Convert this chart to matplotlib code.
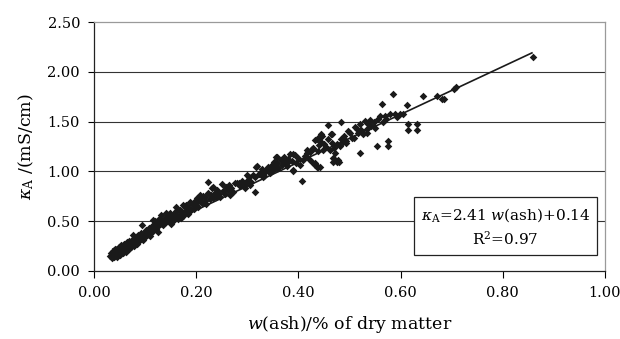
import numpy as np
import matplotlib
matplotlib.use("Agg")
import matplotlib.pyplot as plt

params = {
    "font.family": "serif",
    "font.serif": ["DejaVu Serif"],
    "mathtext.fontset": "custom",
    "mathtext.rm": "DejaVu Serif",
    "mathtext.it": "DejaVu Serif:italic",
    "font.size": 10.5,
}
plt.rcParams.update(params)

low_pts = [
    (0.032, 0.15), (0.034, 0.18), (0.035, 0.13), (0.037, 0.16), (0.037, 0.20), (0.039, 0.14),
    (0.040, 0.18), (0.042, 0.22), (0.042, 0.16), (0.044, 0.19), (0.045, 0.14), (0.047, 0.21),
    (0.047, 0.17), (0.049, 0.24), (0.050, 0.19), (0.051, 0.16), (0.051, 0.22), (0.053, 0.26),
    (0.054, 0.20), (0.056, 0.18), (0.056, 0.23), (0.058, 0.27), (0.059, 0.21), (0.061, 0.25),
    (0.062, 0.19), (0.064, 0.29), (0.064, 0.23), (0.066, 0.26), (0.068, 0.22), (0.069, 0.30),
    (0.071, 0.27), (0.072, 0.24), (0.074, 0.31), (0.076, 0.28), (0.076, 0.36), (0.078, 0.25),
    (0.080, 0.32), (0.081, 0.29), (0.083, 0.34), (0.084, 0.27), (0.086, 0.31), (0.087, 0.36),
    (0.088, 0.30), (0.090, 0.33), (0.092, 0.38), (0.093, 0.46), (0.095, 0.35), (0.095, 0.31),
]
lowmid_pts = [
    (0.097, 0.38), (0.099, 0.34), (0.101, 0.41), (0.103, 0.36), (0.105, 0.39), (0.107, 0.43),
    (0.109, 0.37), (0.111, 0.41), (0.113, 0.45), (0.115, 0.40), (0.116, 0.51), (0.118, 0.44),
    (0.120, 0.47), (0.122, 0.42), (0.124, 0.49), (0.126, 0.45), (0.128, 0.52), (0.130, 0.47),
    (0.132, 0.56), (0.134, 0.50), (0.136, 0.46), (0.139, 0.53), (0.141, 0.49), (0.144, 0.56),
    (0.146, 0.51), (0.149, 0.58), (0.151, 0.54), (0.154, 0.50), (0.156, 0.57), (0.158, 0.53),
    (0.160, 0.60), (0.163, 0.56), (0.165, 0.52), (0.168, 0.61), (0.170, 0.57), (0.173, 0.59),
    (0.175, 0.55), (0.178, 0.64), (0.180, 0.60), (0.183, 0.57), (0.186, 0.63), (0.188, 0.69),
    (0.190, 0.61), (0.193, 0.66), (0.120, 0.50), (0.140, 0.58), (0.160, 0.64), (0.175, 0.66),
    (0.150, 0.47), (0.170, 0.53), (0.181, 0.66), (0.110, 0.35), (0.125, 0.39),
]
mid_pts = [
    (0.195, 0.62), (0.197, 0.70), (0.199, 0.66), (0.202, 0.73), (0.204, 0.64), (0.207, 0.73),
    (0.209, 0.69), (0.211, 0.68), (0.214, 0.75), (0.217, 0.70), (0.220, 0.67), (0.223, 0.89),
    (0.224, 0.78), (0.227, 0.72), (0.229, 0.76), (0.230, 0.83), (0.233, 0.73), (0.236, 0.78),
    (0.239, 0.74), (0.241, 0.81), (0.244, 0.77), (0.246, 0.74), (0.250, 0.87), (0.253, 0.80),
    (0.256, 0.77), (0.259, 0.84), (0.263, 0.81), (0.265, 0.86), (0.268, 0.83), (0.272, 0.79),
    (0.276, 0.88), (0.279, 0.88), (0.283, 0.88), (0.286, 0.85), (0.290, 0.90), (0.293, 0.87),
    (0.296, 0.88), (0.299, 0.96), (0.301, 0.91), (0.304, 0.94), (0.307, 0.89), (0.311, 0.96),
    (0.315, 0.94), (0.315, 0.79), (0.319, 1.05), (0.322, 0.97), (0.325, 0.98), (0.329, 1.02),
    (0.332, 0.95), (0.335, 0.99), (0.337, 1.01), (0.340, 1.04), (0.344, 0.98), (0.348, 1.06),
    (0.351, 1.01), (0.353, 1.09), (0.356, 1.14), (0.358, 1.08), (0.358, 1.14), (0.361, 1.03),
    (0.365, 1.11), (0.368, 1.06), (0.371, 1.14), (0.373, 1.09), (0.377, 1.05), (0.380, 1.12),
    (0.383, 1.17), (0.387, 1.10), (0.389, 1.01),
    (0.201, 0.69), (0.207, 0.76), (0.217, 0.74), (0.233, 0.84), (0.266, 0.76), (0.295, 0.83),
    (0.305, 0.86), (0.318, 1.04), (0.331, 0.94), (0.344, 1.02), (0.357, 1.04), (0.377, 1.08),
    (0.393, 1.16),
]
high_pts = [
    (0.390, 1.00), (0.390, 1.17), (0.395, 1.08), (0.399, 1.13), (0.403, 1.06), (0.407, 0.90),
    (0.409, 1.11), (0.412, 1.15), (0.416, 1.18), (0.416, 1.21), (0.420, 1.12), (0.423, 1.19),
    (0.426, 1.09), (0.426, 1.23), (0.429, 1.24), (0.433, 1.06), (0.433, 1.32), (0.436, 1.04),
    (0.436, 1.33), (0.438, 1.20), (0.439, 1.04), (0.441, 1.27), (0.442, 1.04), (0.442, 1.36),
    (0.445, 1.38), (0.445, 1.30), (0.448, 1.22), (0.451, 1.28), (0.455, 1.25), (0.458, 1.47),
    (0.458, 1.33), (0.462, 1.21), (0.464, 1.38), (0.465, 1.29), (0.468, 1.09), (0.469, 1.24),
    (0.472, 1.11), (0.472, 1.18), (0.475, 1.28), (0.478, 1.11), (0.480, 1.09), (0.481, 1.26),
    (0.483, 1.50), (0.484, 1.33), (0.487, 1.30), (0.490, 1.36), (0.494, 1.31), (0.494, 1.29),
    (0.497, 1.41), (0.501, 1.39), (0.504, 1.34), (0.508, 1.34), (0.511, 1.45), (0.514, 1.43),
    (0.517, 1.39), (0.520, 1.48), (0.520, 1.18), (0.523, 1.42), (0.527, 1.38), (0.530, 1.51),
    (0.534, 1.43), (0.534, 1.39), (0.537, 1.48), (0.540, 1.52), (0.543, 1.46), (0.547, 1.50),
    (0.549, 1.44), (0.554, 1.26), (0.556, 1.53), (0.559, 1.56), (0.563, 1.68), (0.566, 1.50),
    (0.569, 1.56), (0.572, 1.53), (0.576, 1.31), (0.576, 1.26), (0.580, 1.58), (0.585, 1.78),
    (0.589, 1.58), (0.593, 1.55), (0.599, 1.58), (0.605, 1.58),
    (0.429, 1.23), (0.432, 1.08), (0.446, 1.36), (0.465, 1.38), (0.468, 1.13), (0.475, 1.09),
]
top_pts = [
    (0.613, 1.67), (0.615, 1.48), (0.615, 1.42), (0.633, 1.48), (0.633, 1.42), (0.643, 1.76),
    (0.671, 1.76), (0.681, 1.73), (0.684, 1.73), (0.705, 1.83), (0.708, 1.85), (0.859, 2.15),
]

# trend line ends as drawn
trend_x = [0.037, 0.857]
trend_y = [0.22, 2.19]

x_ticks = [0.0, 0.2, 0.4, 0.6, 0.8, 1.0]
y_ticks = [0.0, 0.5, 1.0, 1.5, 2.0, 2.5]

pts = np.array(low_pts + lowmid_pts + mid_pts + high_pts + top_pts)

fig = plt.figure(figsize=(6.2, 3.39), dpi=100)
ax = fig.add_axes([0.1516, 0.2006, 0.8242, 0.7344])

for yv in y_ticks[1:-1]:
    ax.axhline(yv, color="#333333", lw=0.8, zorder=1)

ax.scatter(pts[:, 0], pts[:, 1], marker="D", s=15, color="#1a1a1a", linewidths=0, zorder=3)
ax.plot(trend_x, trend_y, color="#1a1a1a", lw=1.2, zorder=4)

ax.set_xlim(0, 1.0)
ax.set_ylim(0, 2.5)
ax.set_xticks(x_ticks)
ax.set_yticks(y_ticks)
ax.set_xticklabels(["%.2f" % v for v in x_ticks])
ax.set_yticklabels(["%.2f" % v for v in y_ticks])
ax.tick_params(axis="x", direction="out", length=5, width=0.8, pad=6)
ax.tick_params(axis="y", direction="out", length=4, width=0.8, pad=6)

for side in ["top", "right"]:
    ax.spines[side].set_color("#9a9a9a")
for side in ["left", "bottom"]:
    ax.spines[side].set_color("#222222")
for sp in ax.spines.values():
    sp.set_linewidth(0.9)

ax.set_xlabel(r"$w$(ash)/% of dry matter", fontsize=12.5, labelpad=10)
ax.set_ylabel(r"$\kappa_{\rm A}$ /(mS/cm)", fontsize=12.5, labelpad=8)

ax.text(0.805, 0.177, "$\\kappa_{\\rm A}$=2.41 $w$(ash)+0.14\nR$^2$=0.97",
        transform=ax.transAxes, ha="center", va="center", linespacing=1.45, fontsize=11,
        bbox=dict(boxstyle="square,pad=0.45", fc="white", ec="#222222", lw=0.9), zorder=5)

fig.savefig("out.png", dpi=100)
